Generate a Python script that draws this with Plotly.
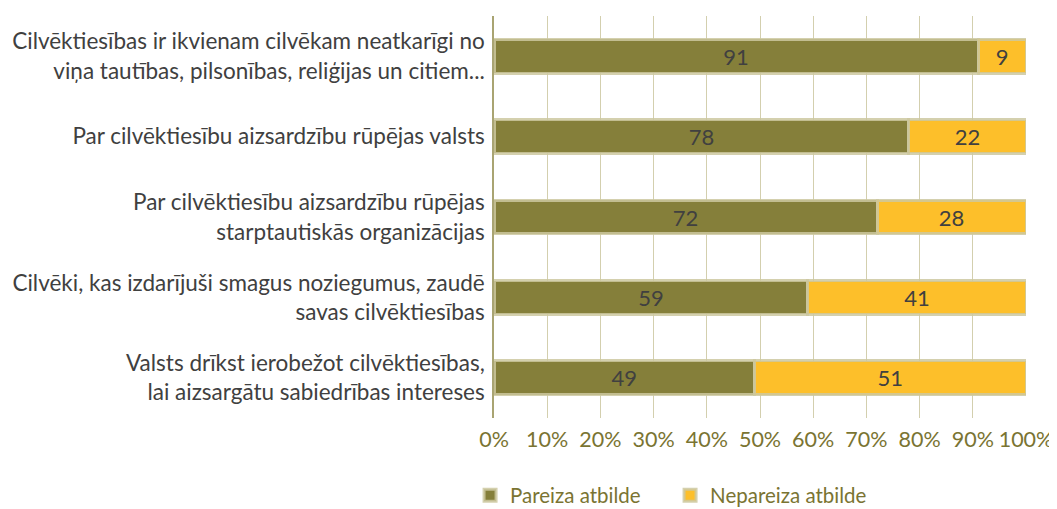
import plotly.graph_objects as go

categories = [
    "Cilvēktiesības ir ikvienam cilvēkam neatkarīgi no<br>viņa tautības, pilsonības, reliģijas un citiem...",
    "Par cilvēktiesību aizsardzību rūpējas valsts",
    "Par cilvēktiesību aizsardzību rūpējas<br>starptautiskās organizācijas",
    "Cilvēki, kas izdarījuši smagus noziegumus, zaudē<br>savas cilvēktiesības",
    "Valsts drīkst ierobežot cilvēktiesības,<br>lai aizsargātu sabiedrības intereses",
]
correct = [91, 78, 72, 59, 49]
incorrect = [9, 22, 28, 41, 51]
series_names = ["Pareiza atbilde", "Nepareiza atbilde"]
tick_vals = [0, 10, 20, 30, 40, 50, 60, 70, 80, 90, 100]
tick_text = ["0%", "10%", "20%", "30%", "40%", "50%", "60%", "70%", "80%", "90%", "100%"]

FONT = "Lato"
OLIVE = "#857F3A"
YELLOW = "#FDBF2A"
BORDER = "rgba(205,200,160,0.85)"
TEXT = "#404040"
AXTEXT = "#7A7432"

fig = go.Figure()
for name, vals, color in [(series_names[0], correct, OLIVE), (series_names[1], incorrect, YELLOW)]:
    fig.add_trace(go.Bar(
        y=categories, x=vals, name=name, orientation="h",
        marker=dict(color=color, line=dict(color=BORDER, width=3)),
        text=[str(v) for v in vals], textposition="inside",
        insidetextanchor="middle", textangle=0,
        textfont=dict(family=FONT, size=22, color=TEXT),
        cliponaxis=False,
    ))

# page body has an 8px default margin; figure is sized so it ends at the window edge
fig.update_layout(
    barmode="stack",
    bargap=0.58,
    width=1049, height=501,
    margin=dict(l=486, r=31, t=8, b=91, autoexpand=False),
    paper_bgcolor="white", plot_bgcolor="white",
    font=dict(family=FONT, color=TEXT),
    showlegend=True,
    legend=dict(
        orientation="h", x=-0.045, xanchor="left",
        yref="container", y=0.027, yanchor="middle",
        font=dict(family=FONT, size=20.5, color=AXTEXT),
        traceorder="normal", itemwidth=30, entrywidth=155, entrywidthmode="pixels",
    ),
    uniformtext=dict(mode=False),
)
fig.update_xaxes(
    range=[0, 100], tickvals=tick_vals, ticktext=tick_text,
    showgrid=True, gridcolor="#D3CFAE", gridwidth=1.3,
    zeroline=False, showline=False, automargin=False,
    tickfont=dict(family=FONT, size=21.5, color=AXTEXT),
    ticks="", ticklabelstandoff=6, tickangle=0,
)
fig.update_yaxes(
    categoryorder="array", categoryarray=categories, autorange="reversed",
    showgrid=False, showline=True, linecolor="#A9A472", linewidth=1.5,
    automargin=False,
    tickfont=dict(family=FONT, size=22.5, color=TEXT),
    ticks="", ticklabelstandoff=3,
)

fig.write_html("out.html")
